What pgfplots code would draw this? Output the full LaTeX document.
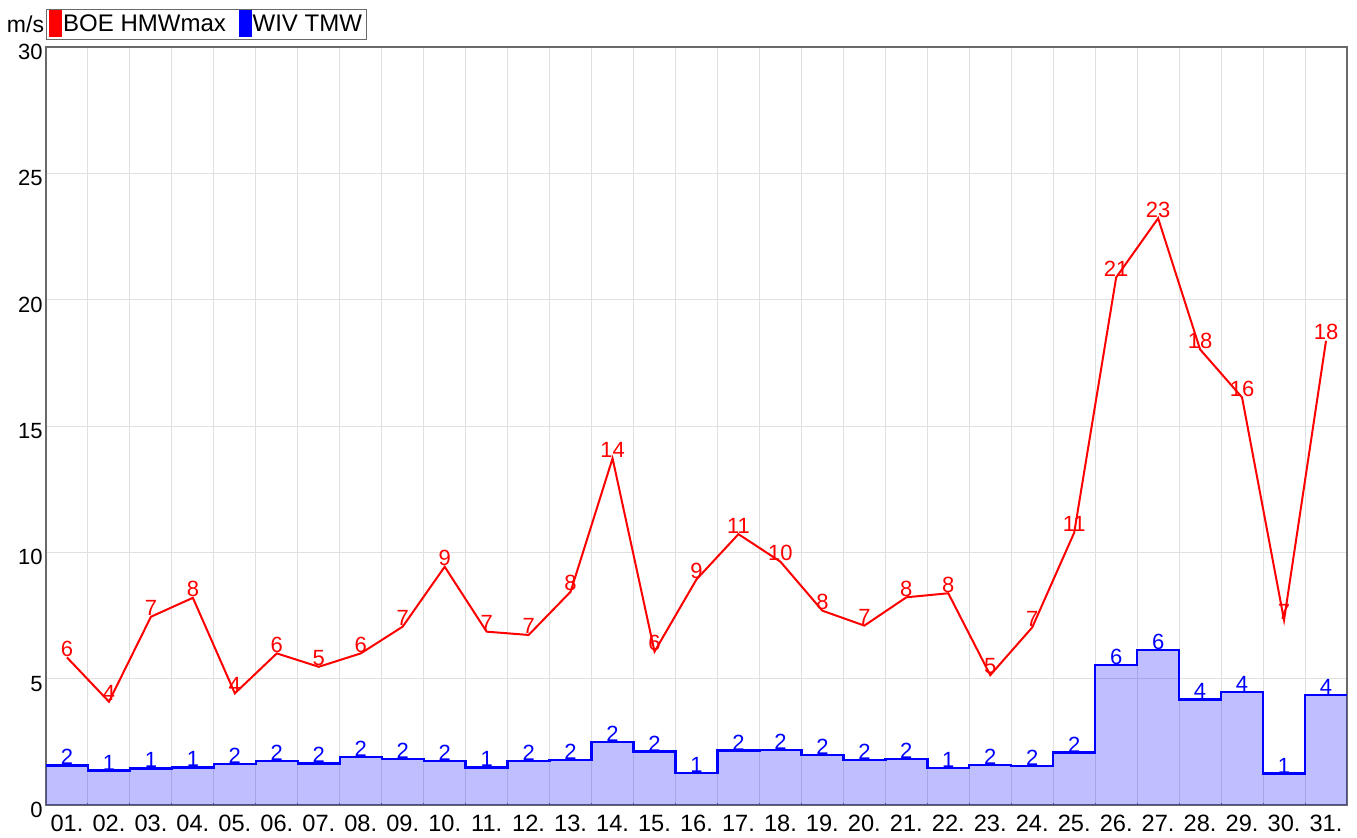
\documentclass[border=0pt]{standalone}
\usepackage{fontspec}
\setmainfont{Liberation Sans}
\usepackage{pgfplots}
\usepackage{pgfplotstable}
\pgfplotsset{compat=1.18}

\definecolor{hmw}{RGB}{255,0,0}
\definecolor{tmw}{RGB}{0,0,255}
\definecolor{gridc}{RGB}{224,224,224}
\definecolor{framec}{RGB}{105,105,105}

% day, max wind (BOE), mean wind (WIV); row 32 only closes the last step
\pgfplotstableread{
day hmw   tmw
1   5.84  1.57
2   4.09  1.36
3   7.45  1.45
4   8.20  1.49
5   4.42  1.62
6   6.00  1.75
7   5.47  1.65
8   6.00  1.91
9   7.06  1.82
10  9.43  1.73
11  6.86  1.49
12  6.73  1.75
13  8.44  1.78
14  13.72 2.49
15  6.07  2.12
16  8.93  1.27
17  10.72 2.15
18  9.63  2.18
19  7.69  1.99
20  7.10  1.78
21  8.22  1.82
22  8.38  1.46
23  5.14  1.58
24  7.03  1.54
25  10.78 2.07
26  20.88 5.54
27  23.22 6.13
28  18.03 4.18
29  16.13 4.48
30  7.32  1.25
31  18.37 4.35
32  nan   4.35
}\wind

\begin{document}
\begin{tikzpicture}
\begin{axis}[
    scale only axis,
    width=650.5pt, height=379pt,
    xmin=0.5, xmax=31.5,
    ymin=0, ymax=30,
    font=\fontsize{11}{13}\selectfont,
    /pgf/number format/assume math mode=true,
    axis line style={framec, line width=0.6pt},
    xtick={1,...,31},
    xticklabels={01.,02.,03.,04.,05.,06.,07.,08.,09.,10.,11.,12.,13.,14.,15.,16.,
      17.,18.,19.,20.,21.,22.,23.,24.,25.,26.,27.,28.,29.,30.,31.},
    minor xtick={1.5,2.5,...,30.5},
    ytick={0,5,...,30},
    xtick pos=bottom, ytick pos=left,
    major tick length=0pt, minor tick length=1.2pt,
    minor tick style={framec, line width=0.5pt},
    xminorgrids=true, ymajorgrids=true,
    minor grid style={gridc, line width=0.5pt},
    major grid style={gridc, line width=0.5pt},
    xticklabel style={yshift=-1.5pt, font=\fontsize{11.8}{13}\selectfont},
    yticklabel style={inner xsep=1.5pt, yshift=-2.5pt},
    legend columns=2,
    legend style={at={(0,1)}, anchor=south west, yshift=3.5pt,
      draw=framec, inner xsep=1.5pt, inner ysep=0.5pt,
      font=\fontsize{12}{13}\selectfont,
      nodes={inner xsep=0.5pt},
      /tikz/every even column/.append style={column sep=6pt}},
    legend cell align=left,
  ]
  % mean wind, filled steps
  \addplot[forget plot, const plot mark left, draw=none, fill=tmw, fill opacity=0.25]
    table[x expr=\thisrow{day}-0.5, y=tmw] {\wind} \closedcycle;
  \addplot[forget plot, const plot mark left, tmw, line width=1.2pt]
    table[x expr=\thisrow{day}-0.5, y=tmw] {\wind};
  % mean wind labels at day centres
  \addplot[forget plot, draw=none, restrict x to domain=1:31,
    nodes near coords={\pgfmathprintnumber[fixed,precision=0]{\pgfplotspointmeta}},
    every node near coord/.append style={tmw, anchor=south, inner sep=0pt,
      font=\fontsize{11}{12}\selectfont}]
    table[x=day, y=tmw] {\wind};
  % max wind
  \addplot[forget plot, hmw, line width=1pt, mark=none,
    nodes near coords={\pgfmathprintnumber[fixed,precision=0]{\pgfplotspointmeta}},
    every node near coord/.append style={hmw, anchor=south, inner sep=0pt,
      font=\fontsize{11}{12}\selectfont}]
    table[x=day, y=hmw] {\wind};

  \addlegendimage{legend image code/.code={\fill[hmw] (0pt,-6pt) rectangle (6pt,7pt);}}
  \addlegendentry{BOE HMWmax}
  \addlegendimage{legend image code/.code={\fill[tmw] (0pt,-6pt) rectangle (6pt,7pt);}}
  \addlegendentry{WIV TMW}
\end{axis}
\node[anchor=base east, inner sep=0.5pt, font=\fontsize{11.5}{13}\selectfont]
  at (-0.3pt,386pt) {m/s};
\pgfresetboundingbox
\path[use as bounding box] (-23pt,-16pt) rectangle (655.5pt,402.5pt);
\end{tikzpicture}
\end{document}
